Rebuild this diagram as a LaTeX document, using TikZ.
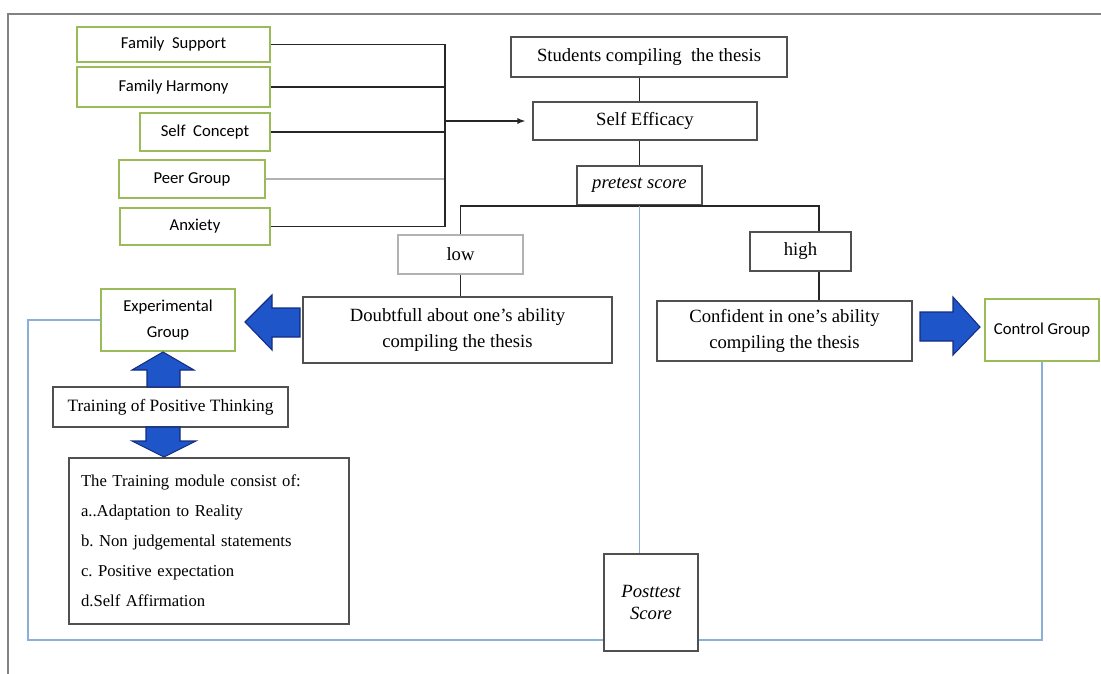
\documentclass[tikz,border=0pt]{standalone}
\usepackage{fontspec}
\setmainfont{Liberation Serif}
\newfontfamily\calibri{Carlito}
\usepackage{tikz}
\usetikzlibrary{arrows.meta,calc}
\definecolor{boxgreen}{RGB}{155,187,89}
\definecolor{loopblue}{RGB}{140,175,215}
\definecolor{fatblue}{RGB}{30,85,200}
\definecolor{fatedge}{RGB}{20,45,130}
\definecolor{boxgray}{RGB}{80,80,80}
\definecolor{framegray}{RGB}{130,130,130}
\frenchspacing

\begin{document}
\begin{tikzpicture}[
  x=0.75pt,y=-0.75pt,
  font=\fontsize{14}{19.5}\selectfont,
  boxsize/.style 2 args={minimum width=#1*0.75pt,minimum height=#2*0.75pt,inner sep=0pt},
  box/.style={draw=boxgray,line width=1.1pt,fill=white,align=center},
  gbox/.style={draw=boxgreen,line width=1.3pt,fill=white,align=center,
    font=\calibri\fontsize{12.5}{19}\selectfont},
  link/.style={line width=1.2pt,black!85},
  bluelink/.style={line width=0.9pt,loopblue},
  arrow/.style={link,-{Latex[length=2.2mm]}},
  fatarrow/.style={fill=fatblue,draw=fatedge,line width=0.8pt,line join=miter}
]
\useasboundingbox (0,0) rectangle (1101,674);
% page frame
\draw[framegray,line width=0.8pt] (1101,14) -| (8,674);

% influencing factors
\node[gbox,boxsize={193}{35}] (fsupport) at (173.5,44.5) {Family\ \ Support};
\node[gbox,boxsize={193}{40}] (fharmony) at (173.5,87) {Family Harmony};
\node[gbox,boxsize={130}{38}] (sconcept) at (205,132) {Self\ \ Concept};
\node[gbox,boxsize={146}{38}] (peer) at (192,179) {Peer Group};
\node[gbox,boxsize={150}{37}] (anxiety) at (195,226.5) {Anxiety};
\coordinate (trunk) at (445,121);

% main column
\node[box,boxsize={276}{40}] (students) at (649,57) {Students compiling\ \ the thesis};
\node[box,boxsize={224}{38}] (efficacy) at (645,121) {Self Efficacy};
\node[box,boxsize={125}{39}] (pretest) at (639.5,185.5) {\itshape pretest score};
\node[box,draw=gray!60,boxsize={125}{39}] (low) at (460.5,254.5) {low};
\node[box,boxsize={101}{39}] (high) at (800.5,251.5) {high};
\node[box,boxsize={309}{66}] (doubt) at (457.5,330) {Doubtfull about one's ability\\compiling the thesis};
\node[box,boxsize={255}{60}] (confident) at (784.5,331) {Confident in one's ability\\compiling the thesis};
\coordinate (hjoin) at (819,206);

% groups
\node[gbox,boxsize={134}{62}] (expgroup) at (168,320) {Experimental\\Group};
\node[gbox,boxsize={114}{62}] (control) at (1042,330) {Control Group};
\node[box,font=\fontsize{13}{16}\selectfont,boxsize={235}{40}] (training) at (170.5,407) {Training of Positive Thinking};
\node[box,font=\fontsize{12.5}{22.5}\selectfont,boxsize={280}{166},inner xsep=9pt,
  text width=256*0.75pt,align=left] (module) at (209,541)
  {The Training module consist of:\\a..Adaptation to Reality\\b. Non judgemental statements\\
   c. Positive expectation\\d.Self Affirmation};
\node[box,font=\fontsize{14}{16.5}\selectfont\itshape,boxsize={94}{97}] (posttest) at (651,602.5) {Posttest\\Score};
\coordinate (loopleft) at (28,640);
\coordinate (loopright) at (1042,640);

\draw[link] (fsupport.east) -- (fsupport.east -| trunk);
\draw[link] (fharmony.east) -- (fharmony.east -| trunk);
\draw[link] (sconcept.east) -- (sconcept.east -| trunk);
\draw[link,gray!60] (peer.east) -- (peer.east -| trunk);
\draw[link] (anxiety.east) -- (anxiety.east -| trunk);
\draw[link] (fsupport.east -| trunk) -- (anxiety.east -| trunk);
\draw[arrow,shorten >=5pt] (trunk) -- (trunk -| efficacy.west);

\draw[link] (students.south -| pretest.north) -- (efficacy.north -| pretest.north);
\draw[link] (efficacy.south -| pretest.north) -- (pretest.north);
\draw[link] (low.north) |- (hjoin) -- (hjoin |- high.north);
\draw[link] (high.south -| hjoin) -- (hjoin |- confident.north);
\draw[link] (low.south) -- (low.south |- doubt.north);

% posttest loop
\draw[bluelink] (expgroup.west) -| (loopleft) -- (loopleft -| posttest.west);
\draw[bluelink] (posttest.east |- loopright) -- (loopright) -- (control.south);
\draw[bluelink] (pretest.south) -- (pretest.south |- posttest.north);

% block arrows
\filldraw[fatarrow] (300,308) -- (272,308) -- (272,295) -- (245,322) -- (272,350) -- (272,337) -- (300,337) -- cycle;
\filldraw[fatarrow] (920,312) -- (953,312) -- (953,297) -- (980,327) -- (953,355) -- (953,341) -- (920,341) -- cycle;
\filldraw[fatarrow] (147,387) -- (147,370) -- (132,370) -- (163,352) -- (194,370) -- (180,370) -- (180,387) -- cycle;
\filldraw[fatarrow] (146,427) -- (146,441) -- (132,441) -- (164,457) -- (196,441) -- (180,441) -- (180,427) -- cycle;
\end{tikzpicture}
\end{document}
